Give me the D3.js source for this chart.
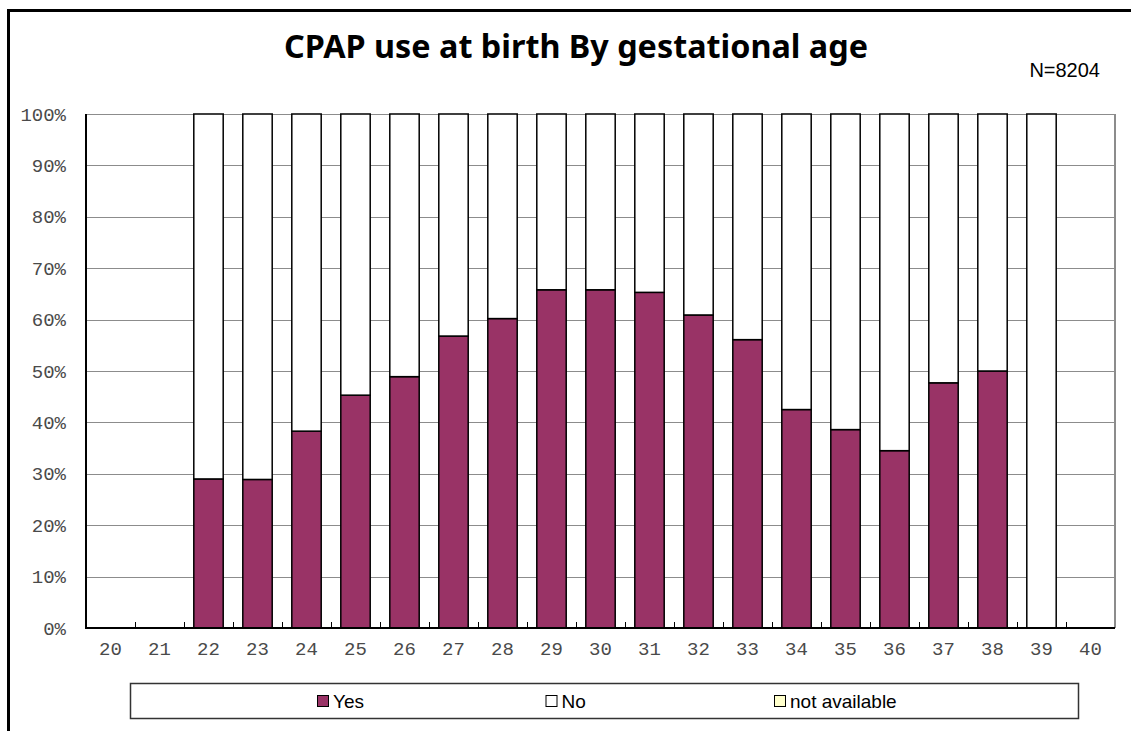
<!DOCTYPE html>
<html>
<head>
<meta charset="utf-8">
<script src="https://cdn.jsdelivr.net/npm/d3@7"></script>
<style>
  body { margin: 0; background: #fff; }
  svg { display: block; }
</style>
</head>
<body>
<div id="chart"></div>
<script>
// gestational age (weeks)
var ages = ["20", "21", "22", "23", "24", "25", "26", "27", "28", "29", "30",
            "31", "32", "33", "34", "35", "36", "37", "38", "39", "40"];
// share of infants per category (%)
var yesPct = [0, 0, 29.0, 28.9, 38.3, 45.3, 48.9, 56.8, 60.2, 65.8, 65.8,
              65.3, 60.9, 56.1, 42.5, 38.6, 34.5, 47.7, 50.0, 0, 0];
var noPct = [0, 0, 71.0, 71.1, 61.7, 54.7, 51.1, 43.2, 39.8, 34.2, 34.2,
             34.7, 39.1, 43.9, 57.5, 61.4, 65.5, 52.3, 50.0, 100, 0];
var naPct = [0, 0, 0, 0, 0, 0, 0, 0, 0, 0, 0,
             0, 0, 0, 0, 0, 0, 0, 0, 0, 0];
var seriesNames = ["Yes", "No", "not available"];
var seriesColors = ["#993366", "#ffffff", "#ffffcc"];
var yTicks = [0, 10, 20, 30, 40, 50, 60, 70, 80, 90, 100];

var width = 1131, height = 731;
var margin = { left: 86, right: 16, top: 114, bottom: 103 };
var monoFont = "'Liberation Mono', 'Courier New', monospace";
var sansFont = "'Liberation Sans', Arial, sans-serif";

var svg = d3.select("#chart").append("svg")
  .attr("width", width)
  .attr("height", height);

// outer frame (only top/left visible)
svg.append("rect")
  .attr("x", 8.5).attr("y", 10.5)
  .attr("width", 1200).attr("height", 800)
  .attr("fill", "none")
  .attr("stroke", "#000")
  .attr("stroke-width", 3);

var x = d3.scaleBand()
  .domain(ages)
  .range([margin.left, width - margin.right])
  .paddingInner(0.4)
  .paddingOuter(0.2);

var y = d3.scaleLinear()
  .domain([0, 100])
  .range([height - margin.bottom, margin.top]);

var step = x.step();
var x0 = margin.left, x1 = width - margin.right;

// gridlines
svg.append("g")
  .selectAll("line")
  .data(yTicks.slice(1))
  .enter()
  .append("line")
  .attr("x1", x0).attr("x2", x1)
  .attr("y1", function (d) { return Math.round(y(d)) + 0.5; })
  .attr("y2", function (d) { return Math.round(y(d)) + 0.5; })
  .attr("stroke", "#8c8c8c")
  .attr("stroke-width", 1);

// right border
svg.append("line")
  .attr("x1", x1).attr("x2", x1)
  .attr("y1", y(100)).attr("y2", y(0))
  .attr("stroke", "#8c8c8c")
  .attr("stroke-width", 2);

// stacked data
var rows = ages.map(function (a, i) {
  return { age: a, "Yes": yesPct[i], "No": noPct[i], "not available": naPct[i] };
});
var stacked = d3.stack().keys(seriesNames)(rows);
var color = d3.scaleOrdinal().domain(seriesNames).range(seriesColors);

svg.append("g")
  .selectAll("g")
  .data(stacked)
  .enter()
  .append("g")
  .attr("fill", function (d) { return color(d.key); })
  .selectAll("rect")
  .data(function (d) { return d.filter(function (p) { return p[1] - p[0] > 0; }); })
  .enter()
  .append("rect")
  .attr("x", function (d) { return x(d.data.age); })
  .attr("y", function (d) { return y(d[1]); })
  .attr("width", x.bandwidth())
  .attr("height", function (d) { return y(d[0]) - y(d[1]); })
  .attr("stroke", "#000")
  .attr("stroke-width", 1.5);

// x axis: labels under each category
var xAxis = d3.axisBottom(x).tickSize(0).tickPadding(14);
var gx = svg.append("g")
  .attr("transform", "translate(0," + y(0) + ")")
  .call(xAxis);
gx.select(".domain").remove();
gx.selectAll("text")
  .attr("font-family", monoFont)
  .attr("font-size", 19)
  .attr("fill", "#4a4a4a");

// boundary ticks (pointing up into the plot)
svg.append("g")
  .selectAll("line")
  .data(ages.slice(1))
  .enter()
  .append("line")
  .attr("x1", function (d) { return Math.round(x(d) - step * 0.2) + 0.5; })
  .attr("x2", function (d) { return Math.round(x(d) - step * 0.2) + 0.5; })
  .attr("y1", y(0))
  .attr("y2", y(0) - 6)
  .attr("stroke", "#000");

// y axis
var yAxis = d3.axisLeft(y)
  .tickValues(yTicks)
  .tickSize(0)
  .tickPadding(20)
  .tickFormat(function (d) { return d + "%"; });
var gy = svg.append("g")
  .attr("transform", "translate(" + x0 + ",0)")
  .call(yAxis);
gy.select(".domain").remove();
gy.selectAll("text")
  .attr("font-family", monoFont)
  .attr("font-size", 19)
  .attr("fill", "#4a4a4a");

// axis lines
svg.append("line")
  .attr("x1", x0).attr("x2", x0)
  .attr("y1", y(100)).attr("y2", y(0) + 1)
  .attr("stroke", "#000").attr("stroke-width", 2);
svg.append("line")
  .attr("x1", x0).attr("x2", x1)
  .attr("y1", y(0)).attr("y2", y(0))
  .attr("stroke", "#000").attr("stroke-width", 2);

// title
var title = svg.append("text")
  .attr("x", 576)
  .attr("y", 58)
  .attr("text-anchor", "middle")
  .attr("font-family", "'Noto Sans', 'Open Sans', sans-serif")
  .attr("font-weight", "bold")
  .attr("font-size", 30)
  .text("CPAP use at birth By gestational age");
// fit to the width of the original title
var tw = title.node().getComputedTextLength();
title.attr("font-size", 30 * 584 / tw);

svg.append("text")
  .attr("x", 1100)
  .attr("y", 77)
  .attr("text-anchor", "end")
  .attr("font-family", sansFont)
  .attr("font-size", 20)
  .text("N=8204");

// legend
var legend = svg.append("g");
legend.append("rect")
  .attr("x", 130.5).attr("y", 683.5)
  .attr("width", 948).attr("height", 35)
  .attr("fill", "#fff")
  .attr("stroke", "#333")
  .attr("stroke-width", 1.5);

var items = legend.selectAll("g.item")
  .data(seriesNames)
  .enter()
  .append("g")
  .attr("class", "item")
  .attr("transform", function (d, i) { return "translate(" + (317 + i * 228.5) + ",695)"; });

items.append("rect")
  .attr("x", 0.5).attr("y", 0.5)
  .attr("width", 11).attr("height", 11)
  .attr("fill", function (d) { return color(d); })
  .attr("stroke", "#000");

items.append("text")
  .attr("x", 16)
  .attr("y", 13)
  .attr("font-family", sansFont)
  .attr("font-size", 19)
  .text(function (d) { return d; });
</script>
</body>
</html>
